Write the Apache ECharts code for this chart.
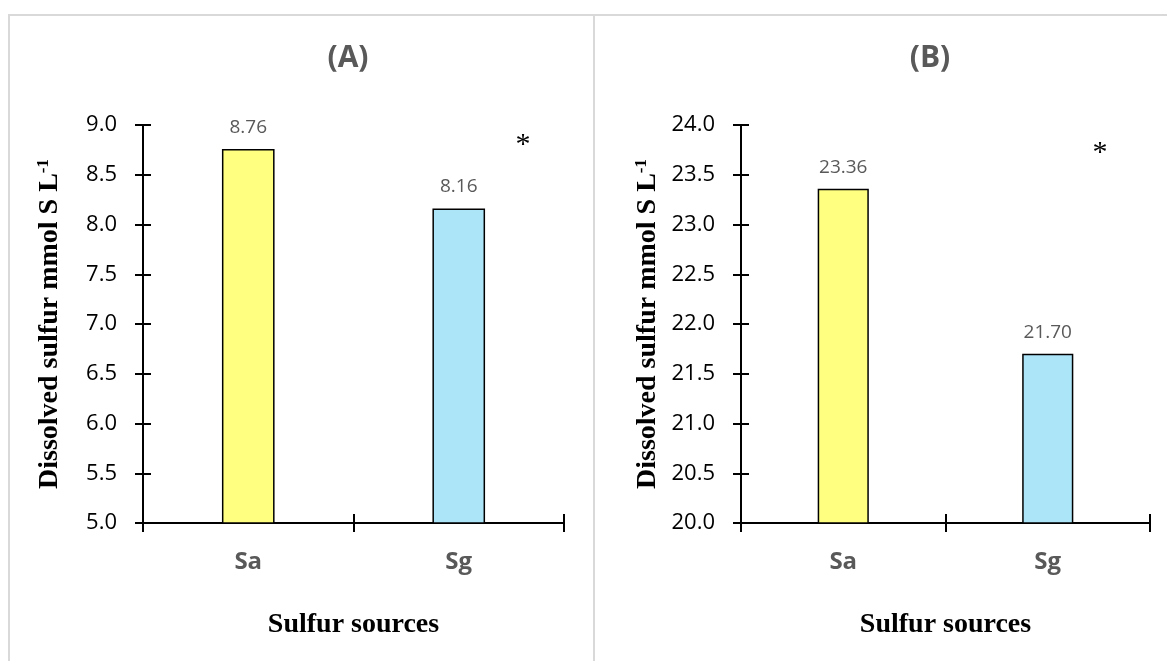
<!DOCTYPE html>
<html>
<head>
<meta charset="utf-8">
<script src="https://cdn.jsdelivr.net/npm/echarts@6/dist/echarts.min.js"></script>
<style>
html,body{margin:0;padding:0;background:#fff;}
#chart{width:1167px;height:661px;}
</style>
</head>
<body>
<div id="chart"></div>
<script>
const categories = ['Sa', 'Sg'];
const valuesA = [8.76, 8.16];
const valuesB = [23.36, 21.70];
const rangeA = [5.0, 9.0];
const rangeB = [20.0, 24.0];
const tickStep = 0.5;
const barColors = ['#FFFF80', '#ADE5F8'];
const panelTitles = ['(A)', '(B)'];
const xTitle = 'Sulfur sources';
const yTitleMain = 'Dissolved sulfur mmol S L';
const yTitleSup = '-1';
const significance = '*';

const chart = echarts.init(document.getElementById('chart'));

const grids = [
  {left: 143, top: 125, width: 421, height: 398},
  {left: 741, top: 125, width: 409, height: 398}
];
const ranges = [rangeA, rangeB];
const values = [valuesA, valuesB];

const xAxes = [], yAxes = [], series = [];
grids.forEach((g, i) => {
  const axisLine = {show: true, lineStyle: {color: '#000', width: 2}};
  // outer ticks + labels
  yAxes.push({
    gridIndex: i, type: 'value', min: ranges[i][0], max: ranges[i][1], interval: tickStep,
    position: 'left',
    axisLine: axisLine,
    axisTick: {show: true, inside: false, length: 8, lineStyle: {color: '#000', width: 2}},
    splitLine: {show: false},
    axisLabel: {margin: 26, color: '#000', fontSize: 22, fontFamily: 'Open Sans',
      formatter: v => v.toFixed(1)},
    name: '{t|' + yTitleMain + '}{s|' + yTitleSup + '}',
    nameLocation: 'middle', nameGap: 78,
    nameTextStyle: {
      color: '#000', fontFamily: 'Liberation Serif', fontWeight: 'bold', fontSize: 28,
      rich: {
        t: {fontFamily: 'Liberation Serif', fontWeight: 'bold', fontSize: 28, color: '#000', lineHeight: 30},
        s: {fontFamily: 'Liberation Serif', fontWeight: 'bold', fontSize: 17, color: '#000', verticalAlign: 'top', lineHeight: 30}
      }
    }
  });
  // inner ticks
  yAxes.push({
    gridIndex: i, type: 'value', min: ranges[i][0], max: ranges[i][1], interval: tickStep,
    position: 'left', offset: 0,
    axisLine: axisLine,
    axisTick: {show: true, inside: true, length: 8, lineStyle: {color: '#000', width: 2}},
    splitLine: {show: false},
    axisLabel: {show: false}
  });
  xAxes.push({
    gridIndex: i, type: 'category', data: categories, position: 'bottom',
    axisLine: axisLine,
    axisTick: {show: true, inside: false, length: 9, lineStyle: {color: '#000', width: 2}},
    axisLabel: {margin: 27, color: '#595959', fontSize: 24, fontWeight: 'bold', fontFamily: 'Open Sans'},
    name: xTitle, nameLocation: 'middle', nameGap: 88,
    nameTextStyle: {color: '#000', fontFamily: 'Liberation Serif', fontWeight: 'bold', fontSize: 28, lineHeight: 28}
  });
  xAxes.push({
    gridIndex: i, type: 'category', data: categories, position: 'bottom', offset: 0,
    axisLine: axisLine,
    axisTick: {show: true, inside: true, length: 9, lineStyle: {color: '#000', width: 2}},
    axisLabel: {show: false}
  });
  series.push({
    type: 'bar', xAxisIndex: 2 * i, yAxisIndex: 2 * i,
    barWidth: '25%',
    data: values[i].map((v, k) => ({value: v, itemStyle: {color: barColors[k]}})),
    itemStyle: {borderColor: '#000', borderWidth: 1.5},
    label: {show: true, position: 'top', distance: 12, color: '#595959', fontSize: 19,
      fontFamily: 'Open Sans', formatter: p => p.value.toFixed(2)},
    z: 1
  });
});

const borderStyle = {stroke: '#D9D9D9', lineWidth: 2};

chart.setOption({
  animation: false,
  backgroundColor: '#fff',
  title: [
    {text: panelTitles[0], left: 343, top: 38, textAlign: 'center',
      textStyle: {color: '#595959', fontSize: 30, fontWeight: 'bold', fontFamily: 'Open Sans'}},
    {text: panelTitles[1], left: 925, top: 38, textAlign: 'center',
      textStyle: {color: '#595959', fontSize: 30, fontWeight: 'bold', fontFamily: 'Open Sans'}}
  ],
  grid: grids,
  xAxis: xAxes,
  yAxis: yAxes,
  series: series,
  graphic: [
    {type: 'line', shape: {x1: 8, y1: 15, x2: 1167, y2: 15}, style: borderStyle, silent: true},
    {type: 'line', shape: {x1: 9, y1: 15, x2: 9, y2: 661}, style: borderStyle, silent: true},
    {type: 'line', shape: {x1: 594, y1: 15, x2: 594, y2: 661}, style: borderStyle, silent: true},
    {type: 'text', x: 523, y: 145, style: {text: significance, fill: '#000', fontSize: 30,
      fontFamily: 'Liberation Serif', textAlign: 'center', textVerticalAlign: 'middle'}},
    {type: 'text', x: 1100, y: 153, style: {text: significance, fill: '#000', fontSize: 30,
      fontFamily: 'Liberation Serif', textAlign: 'center', textVerticalAlign: 'middle'}}
  ]
});
</script>
</body>
</html>
